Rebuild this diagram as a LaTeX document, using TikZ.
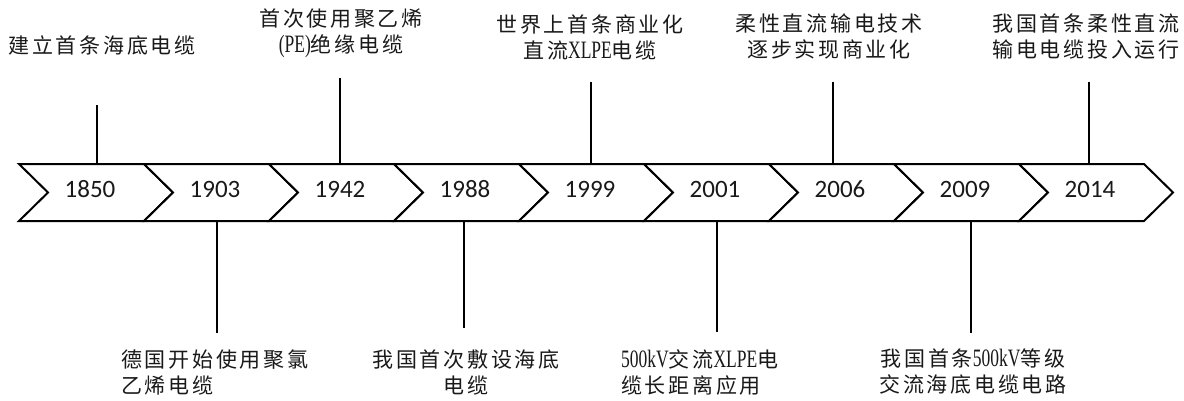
\documentclass[tikz,border=0pt]{standalone}
\usepackage{fontspec}
\newfontfamily\cjk{Noto Sans CJK SC}[LetterSpace=13]
\newfontfamily\latf{Liberation Serif}[FakeStretch=0.7]
\newcommand\lat{\latf\fontsize{25}{26}\selectfont}
\newfontfamily\yearfont{Carlito}
\begin{document}
\begin{tikzpicture}[x=1pt,y=-1pt,
  chev/.style={draw=black,line width=2pt,fill=white,line join=miter},
  year/.style={font=\yearfont\fontsize{25}{30}\selectfont,text=black!90,inner sep=0pt},
  lbl/.style={font=\cjk\fontsize{21}{26}\selectfont,text=black!90,inner sep=0pt,align=center},
  lbll/.style={lbl,align=left,anchor=west},
  tick/.style={draw=black,line width=1.5pt}]
\useasboundingbox (0,0) rectangle (1184,400);
\fill[white] (0,0) rectangle (1184,400);
% chevrons and years
\foreach \yr [count=\k from 0] in {1850,1903,1942,1988,1999,2001,2006,2009,2014} {
  \pgfmathsetmacro\L{19+125*\k}
  \draw[chev] (\L,164) -- (\L+125,164) -- (\L+154,192.5) -- (\L+125,221) -- (\L,221) -- (\L+29,192.5) -- cycle;
  \node[year] (y\k) at (\L+71,189) {\yr};
}
% labels above
\node[lbl] (l0) at (102,45) {建立首条海底电缆};
\node[lbl] (l2) at (341,33) {首次使用聚乙烯\\{\lat (PE)}绝缘电缆};
\node[lbl] (l4) at (590,37) {世界上首条商业化\\直流{\lat XLPE}电缆};
\node[lbl] (l6) at (829,37) {柔性直流输电技术\\逐步实现商业化};
\node[lbl] (l8) at (1086,37) {我国首条柔性直流\\输电电缆投入运行};
% labels below
\node[lbll] (l1) at (121,372) {德国开始使用聚氯\\乙烯电缆};
\node[lbl] (l3) at (466,372) {我国首次敷设海底\\电缆};
\node[lbll] (l5) at (621,372) {{\lat 500kV}交流{\lat XLPE}电\\缆长距离应用};
\node[lbl] (l7) at (973,372) {我国首条{\lat 500kV}等级\\交流海底电缆电路};
% connector coordinates
\coordinate (t0) at (97,164);  \coordinate (e0) at (97,105);
\coordinate (t2) at (340,164); \coordinate (e2) at (340,78);
\coordinate (t4) at (591,164); \coordinate (e4) at (591,82);
\coordinate (t6) at (833,164); \coordinate (e6) at (833,82);
\coordinate (t8) at (1089,164);\coordinate (e8) at (1089,82);
\coordinate (t1) at (217,221); \coordinate (e1) at (217,333);
\coordinate (t3) at (464,221); \coordinate (e3) at (464,328);
\coordinate (t5) at (717,221); \coordinate (e5) at (717,332);
\coordinate (t7) at (971,221); \coordinate (e7) at (971,333);
\foreach \i in {0,...,8} { \draw[tick] (t\i) -- (e\i); }
\end{tikzpicture}
\end{document}
